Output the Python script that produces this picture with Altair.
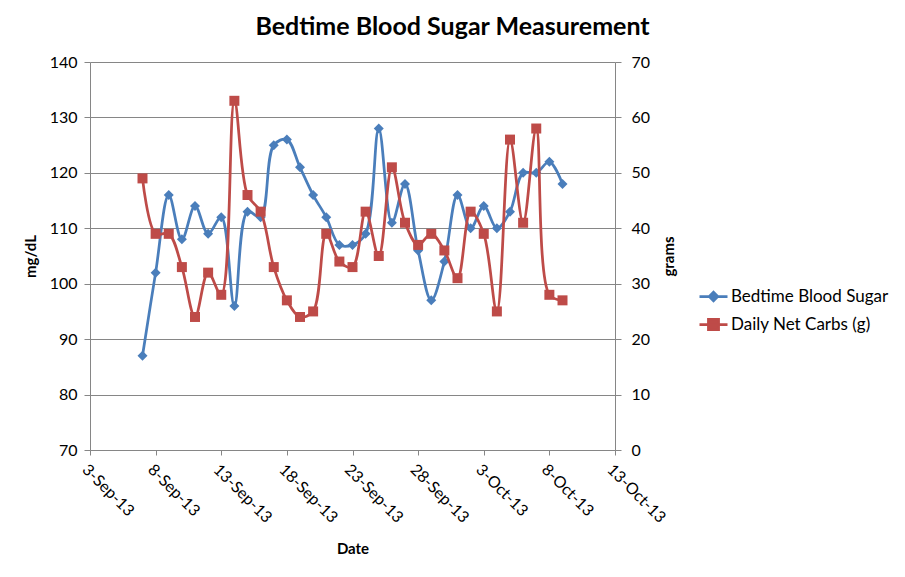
import altair as alt
import pandas as pd

# ---- data ----
dates = pd.date_range("2013-09-07", "2013-10-09", freq="D").strftime("%Y-%m-%dT00:00:00").tolist()
blood_sugar = [87, 102, 116, 108, 114, 109, 112, 96, 113, 112, 125, 126, 121, 116, 112, 107, 107,
               109, 128, 111, 118, 106, 97, 104, 116, 110, 114, 110, 113, 120, 120, 122, 118]
net_carbs = [49, 39, 39, 33, 24, 32, 28, 63, 46, 43, 33, 27, 24, 25, 39, 34, 33,
             43, 35, 51, 41, 37, 39, 36, 31, 43, 39, 25, 56, 41, 58, 28, 27]
series_names = ["Bedtime Blood Sugar", "Daily Net Carbs (g)"]
series_colors = ["#4A7EBB", "#BE4B48"]
x_tick_days = [(2013, 9, 3), (2013, 9, 8), (2013, 9, 13), (2013, 9, 18), (2013, 9, 23),
               (2013, 9, 28), (2013, 10, 3), (2013, 10, 8), (2013, 10, 13)]
left_ticks = [70, 80, 90, 100, 110, 120, 130, 140]
right_ticks = [0, 10, 20, 30, 40, 50, 60, 70]

df = pd.DataFrame({"date": dates, "bs": blood_sugar, "carbs": net_carbs})

FONT = "Lato"
GRID = "#868686"
BLUE, RED = series_colors
LBL = 16

x_vals = [alt.DateTime(year=y, month=m, date=d) for (y, m, d) in x_tick_days]

x_enc = alt.X(
    "date:T",
    scale=alt.Scale(domain=[x_vals[0], x_vals[-1]]),
    axis=alt.Axis(
        values=x_vals, format="%-d-%b-%y", labelAngle=45, labelAlign="left",
        labelBaseline="top", labelPadding=6, labelFont=FONT, labelFontSize=LBL,
        labelColor="#000", domainColor=GRID, tickColor=GRID, tickSize=5,
        grid=False, title="Date", titleFont=FONT, titleFontSize=15,
        titleFontWeight="bold", titleColor="#000", titleY=98, titleBaseline="middle",
        labelOverlap=False,
    ),
)

y_left = alt.Y(
    "bs:Q",
    scale=alt.Scale(domain=[70, 140], nice=False, zero=False),
    axis=alt.Axis(
        values=left_ticks, grid=True, gridColor=GRID, gridOpacity=1, domainColor=GRID,
        tickColor=GRID, tickSize=6, labelFont=FONT, labelFontSize=LBL, labelColor="#000",
        labelPadding=7, title="mg/dL", titleFont=FONT, titleFontSize=15,
        titleFontWeight="bold", titleColor="#000", titleAngle=270, titleX=-60, titleY=194,
        titleBaseline="middle", titleAlign="center",
    ),
)

y_right = alt.Y(
    "carbs:Q",
    scale=alt.Scale(domain=[0, 70], nice=False),
    axis=alt.Axis(
        orient="right", values=right_ticks, grid=False, domainColor=GRID, tickColor=GRID,
        tickSize=6, labelFont=FONT, labelFontSize=LBL, labelColor="#000", labelPadding=10,
        title="grams", titleFont=FONT, titleFontSize=15, titleFontWeight="bold",
        titleColor="#000", titleAngle=270, titleX=53, titleY=194, titleBaseline="middle",
        titleAlign="center",
    ),
)

base = alt.Chart(df)

blue_line = base.mark_line(color=BLUE, strokeWidth=2.75, interpolate="catmull-rom").encode(x=x_enc, y=y_left)
blue_pts = base.mark_point(shape="diamond", filled=True, size=100, color=BLUE, opacity=1).encode(x=x_enc, y=y_left)
red_line = base.mark_line(color=RED, strokeWidth=2.75, interpolate="catmull-rom").encode(x=x_enc, y=y_right)
red_pts = base.mark_point(shape="square", filled=True, size=100, color=RED, opacity=1).encode(x=x_enc, y=y_right)

legend_shapes = [
    "M-1,0H1M0,-0.3L0.3,0L0,0.3L-0.3,0Z",
    "M-1,0H1M-0.36,-0.36H0.36V0.36H-0.36Z",
]
leg = alt.Legend(
    orient="none", legendX=608, legendY=219, labelFont=FONT, labelFontSize=17,
    labelColor="#000", symbolSize=784, symbolStrokeWidth=2.75, rowPadding=2,
    labelOffset=2,
)
legend_layer = alt.Chart(alt.Data(values=[])).mark_point(filled=True, opacity=1, strokeWidth=2.75).encode(
    shape=alt.Shape("series:N", scale=alt.Scale(domain=series_names, range=legend_shapes), legend=leg, title=None),
    fill=alt.Fill("series:N", scale=alt.Scale(domain=series_names, range=series_colors), legend=leg, title=None),
    stroke=alt.Stroke("series:N", scale=alt.Scale(domain=series_names, range=series_colors), legend=leg, title=None),
)

chart = (
    alt.layer(
        alt.layer(blue_line, blue_pts),
        alt.layer(red_line, red_pts),
        legend_layer,
    )
    .resolve_scale(y="independent")
    .properties(
        width=525, height=388,
        autosize=alt.AutoSizeParams(type="none"),
        padding={"left": 82, "top": 54, "right": 282, "bottom": 119},
        title=alt.TitleParams(
            "Bedtime Blood Sugar Measurement", font=FONT, fontSize=25, fontWeight="bold",
            color="#000", anchor="middle", dx=100, offset=14,
        ),
    )
    .configure_view(stroke=None)
)

chart.save("out.html", embed_options={"renderer": "svg", "actions": False})
